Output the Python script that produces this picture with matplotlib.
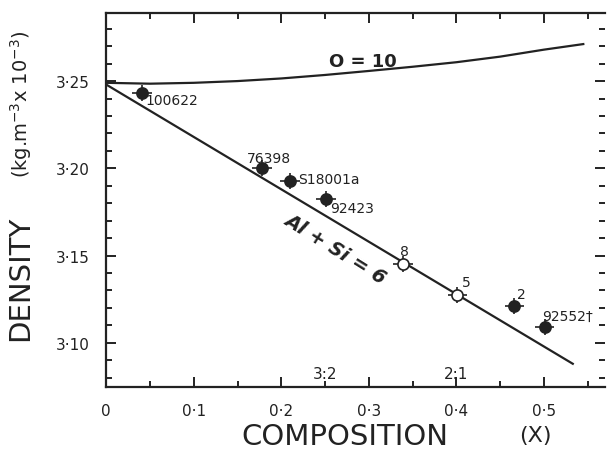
import numpy as np
import matplotlib
matplotlib.use("Agg")
import matplotlib.pyplot as plt
from matplotlib.ticker import MultipleLocator

# O = 10 curve
curve_x = [0.0, 0.05, 0.1, 0.15, 0.2, 0.25, 0.3, 0.35, 0.4, 0.45, 0.5, 0.545]
curve_y = [3.2490, 3.2485, 3.2490, 3.2500, 3.2515, 3.2535, 3.2558, 3.2582, 3.2608, 3.2640, 3.2680, 3.2712]

# Al + Si = 6 line end points
line_x = [0.0, 0.533]
line_y = [3.248, 3.088]

# samples
labels = ["100622", "76398", "S18001a", "92423", "8", "5", "2", "92552\u2020"]
comp = [0.041, 0.178, 0.210, 0.251, 0.339, 0.401, 0.466, 0.501]
dens = [3.2431, 3.2000, 3.1927, 3.1824, 3.1452, 3.1275, 3.1212, 3.1092]
filled = [True, True, True, True, False, False, True, True]
xerr = 0.011
yerr = 0.0045

xticks = [0, 0.1, 0.2, 0.3, 0.4, 0.5]
xticklabels = ["0", "0\u00b71", "0\u00b72", "0\u00b73", "0\u00b74", "0\u00b75"]
yticks = [3.10, 3.15, 3.20, 3.25]
yticklabels = ["3\u00b710", "3\u00b715", "3\u00b720", "3\u00b725"]

fig = plt.figure(figsize=(6.07, 4.52), dpi=100)
ax = fig.add_axes([0.175, 0.142, 0.822, 0.827])
ink = "#222222"

ax.plot(curve_x, curve_y, color=ink, lw=1.6)
ax.plot(line_x, line_y, color=ink, lw=1.6)

for x, y, f in zip(comp, dens, filled):
    ax.errorbar(x, y, xerr=xerr, yerr=yerr, fmt="o", ms=8,
                mfc=ink if f else "white", mec=ink, mew=1.2,
                ecolor=ink, elinewidth=1.2, capsize=0, zorder=3)

offsets = [(0.004, -0.004), (-0.017, 0.006), (0.009, 0.001), (0.005, -0.005),
           (-0.003, 0.0075), (0.005, 0.0075), (0.003, 0.0065), (-0.003, 0.0065)]
for lab, x, y, (dx, dy) in zip(labels, comp, dens, offsets):
    ax.text(x + dx, y + dy, lab, fontsize=10, color=ink, ha="left", va="center")

ax.text(0.293, 3.2615, "O = 10", fontsize=13, color=ink, ha="center",
        va="center", fontweight="bold")
ax.text(0.262, 3.1545, "Al + Si = 6", fontsize=14, color=ink, ha="center",
        va="center", rotation=-32, style="italic", fontweight="bold")
ax.text(0.25, 3.0822, "3:2", fontsize=11, color=ink, ha="center", va="center")
ax.text(0.40, 3.0822, "2:1", fontsize=11, color=ink, ha="center", va="center")

ax.set_xlim(0, 0.57)
ax.set_ylim(3.0748, 3.289)
ax.set_xticks(xticks)
ax.set_xticklabels(xticklabels, fontsize=11, color=ink)
ax.set_yticks(yticks)
ax.set_yticklabels(yticklabels, fontsize=11, color=ink)
ax.xaxis.set_minor_locator(MultipleLocator(0.05))
ax.yaxis.set_minor_locator(MultipleLocator(0.01))
ax.tick_params(which="both", direction="in", top=True, right=True,
               color=ink, width=1.4)
ax.tick_params(which="major", length=7, pad=12)
ax.tick_params(which="minor", length=4)
for side in ["left", "bottom", "top"]:
    ax.spines[side].set_linewidth(1.6)
    ax.spines[side].set_color(ink)
ax.spines["right"].set_visible(False)

fig.text(0.033, 0.385, "DENSITY", rotation=90, fontsize=21, color=ink,
         ha="center", va="center")
fig.text(0.035, 0.77, "(kg.m$^{-3}$x 10$^{-3}$)", rotation=90, fontsize=14,
         color=ink, ha="center", va="center")
fig.text(0.568, 0.033, "COMPOSITION", fontsize=21, color=ink,
         ha="center", va="center")
fig.text(0.882, 0.036, "(X)", fontsize=16, color=ink, ha="center", va="center")

fig.savefig("out.png", dpi=100)
